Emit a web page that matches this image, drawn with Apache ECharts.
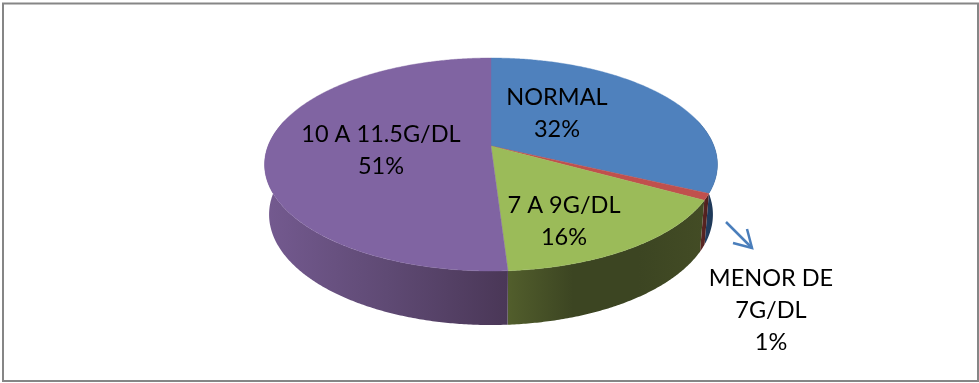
<!DOCTYPE html>
<html>
<head>
<meta charset="utf-8">
<style>html,body{margin:0;padding:0;background:#fff}#chart{width:979px;height:383px}</style>
<script src="https://cdn.jsdelivr.net/npm/echarts@6/dist/echarts.min.js"></script>
</head>
<body>
<div id="chart"></div>
<script>
// Hemoglobin ranges and their share of patients, clockwise from twelve o'clock
const categories = ['NORMAL', 'MENOR DE\n7G/DL', '7 A 9G/DL', '10 A 11.5G/DL'];
const percents = [32, 1, 16, 51];

// Slice colours
const topColors = ['#4f81bd', '#c0504d', '#9bbb59', '#8064a2'];
const sideStops = [
  ['#2a4a72', '#1b3350'],
  ['#5e2725', '#4d1f1d'],
  ['#525e2c', '#3c4522', '#3c4522', '#434c25'],
  ['#745a90', '#5f4a74', '#4a3757']
];

// Label centres, one block per category
const labelCentres = [[557, 113], [771, 310], [564, 221], [381, 150]];

// Perspective disc: the top face and the slightly narrower bottom face
const disc = {cx: 491, radius: 223, persp: 0.1737};
const topFace = {y0: 146, k: 103.3, scale: 1};
const bottomFace = {y0: 195.3, k: 107.2, scale: 0.98};

function project(face, deg) {
  const a = deg * Math.PI / 180;
  const u = Math.cos(a);
  const s = 1 / (1 + disc.persp * u);
  return [disc.cx + face.scale * disc.radius * Math.sin(a) * s, face.y0 - face.k * u * s];
}

function arc(face, from, to) {
  const pts = [];
  const n = Math.max(2, Math.ceil(Math.abs(to - from) * 2));
  for (let i = 0; i <= n; i++) pts.push(project(face, from + (to - from) * i / n));
  return pts;
}

const total = percents.reduce((a, b) => a + b, 0);
function sweep(i) {
  let before = 0;
  for (let j = 0; j < i; j++) before += percents[j];
  return [before / total * 360, (before + percents[i]) / total * 360];
}

function renderTop(params, api) {
  const i = params.dataIndex;
  const [a, b] = sweep(i);
  return {
    type: 'polygon',
    shape: {points: [[disc.cx, topFace.y0]].concat(arc(topFace, a, b))},
    style: {fill: topColors[i], stroke: topColors[i], lineWidth: 0.4}
  };
}

function renderSide(params, api) {
  const i = params.dataIndex;
  const [s, e] = sweep(i);
  // Only the part of the wall facing the viewer is drawn
  const a = Math.max(s, 75);
  const b = Math.min(e, 285);
  if (b <= a) return null;
  const upper = arc(topFace, a, b);
  const lower = arc(bottomFace, b, a);
  const pts = upper.concat(lower);
  const xs = pts.map(p => p[0]);
  const x0 = Math.min.apply(null, xs);
  const x1 = Math.max.apply(null, xs);
  const stops = sideStops[i];
  const colorStops = stops.map((c, k) => ({offset: k / (stops.length - 1), color: c}));
  return {
    type: 'polygon',
    shape: {points: pts},
    style: {fill: {type: 'linear', x: x0, y: 0, x2: x1, y2: 0, global: true, colorStops: colorStops}}
  };
}

function renderLabel(params, api) {
  const i = params.dataIndex;
  return {
    type: 'text',
    style: {
      text: categories[i] + '\n' + percents[i] + '%',
      x: labelCentres[i][0],
      y: labelCentres[i][1],
      align: 'center',
      verticalAlign: 'middle',
      font: '23.5px Lato',
      lineHeight: 32,
      fill: '#000'
    }
  };
}

const chart = echarts.init(document.getElementById('chart'), null, {renderer: 'canvas'});
const rows = percents.map((v, i) => [i, v]);
chart.setOption({
  animation: false,
  backgroundColor: '#fff',
  series: [
    {type: 'custom', coordinateSystem: 'none', silent: true, z: 1, renderItem: renderSide, data: rows},
    {type: 'custom', coordinateSystem: 'none', silent: true, z: 2, renderItem: renderTop, data: rows},
    {type: 'custom', coordinateSystem: 'none', silent: true, z: 3, renderItem: renderLabel, data: rows}
  ],
  graphic: [
    // Outer frame
    {type: 'rect', z: 0, shape: {x: 3, y: 3.5, width: 975, height: 377.5},
     style: {fill: 'none', stroke: '#868686', lineWidth: 2}},
    // Arrow pointing from the thin slice to its label
    {type: 'polyline', z: 4, shape: {points: [[726, 222], [752, 248]]},
     style: {fill: 'none', stroke: '#4a7ebb', lineWidth: 2.5}},
    {type: 'polyline', z: 4, shape: {points: [[747, 229], [752, 248], [733, 243]]},
     style: {fill: 'none', stroke: '#4a7ebb', lineWidth: 2.5}}
  ]
});
</script>
</body>
</html>
